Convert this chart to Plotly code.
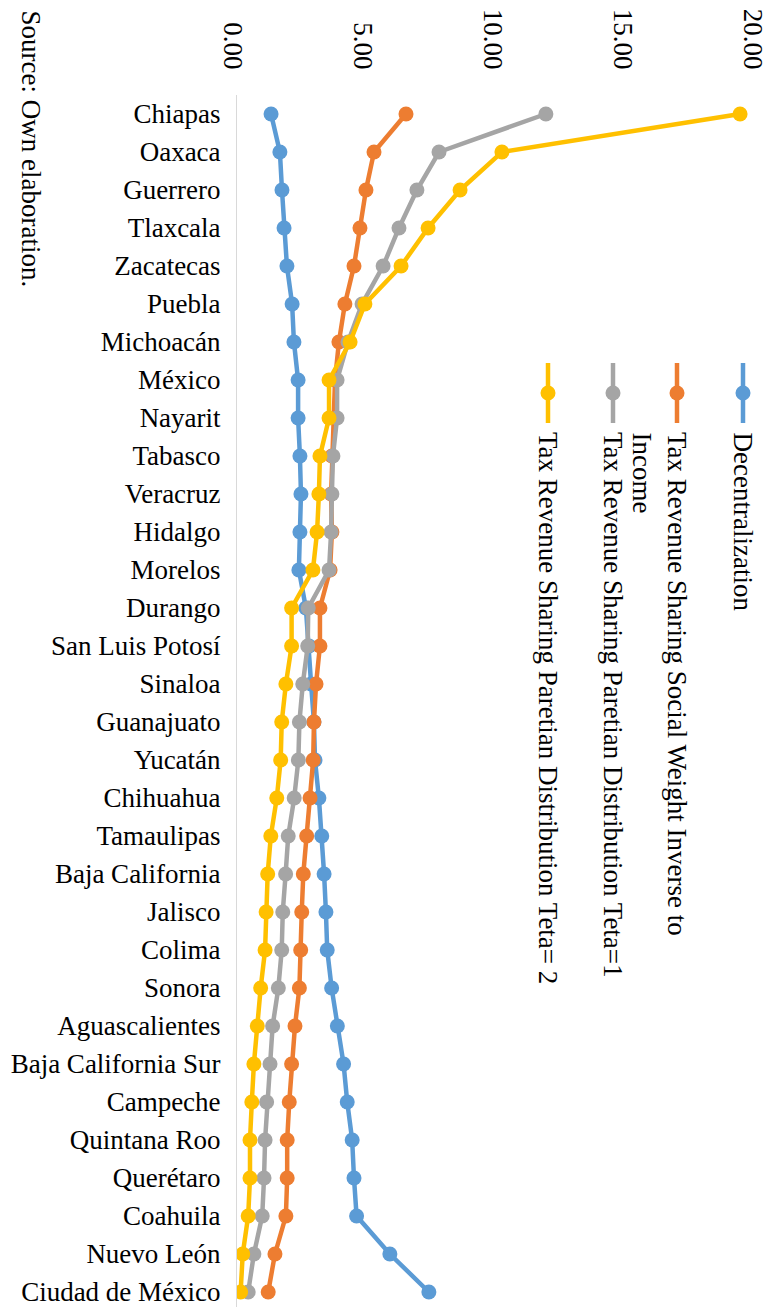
import plotly.graph_objects as go

# Mexican states, top to bottom
states = [
    "Chiapas", "Oaxaca", "Guerrero", "Tlaxcala", "Zacatecas", "Puebla",
    "Michoacán", "México", "Nayarit", "Tabasco", "Veracruz", "Hidalgo",
    "Morelos", "Durango", "San Luis Potosí", "Sinaloa", "Guanajuato",
    "Yucatán", "Chihuahua", "Tamaulipas", "Baja California", "Jalisco",
    "Colima", "Sonora", "Aguascalientes", "Baja California Sur", "Campeche",
    "Quintana Roo", "Querétaro", "Coahuila", "Nuevo León", "Ciudad de México",
]

decentralization = [
    1.31, 1.65, 1.73, 1.81, 1.92, 2.12, 2.19, 2.35, 2.35, 2.42, 2.46, 2.42,
    2.38, 2.65, 2.77, 2.85, 2.96, 3.00, 3.15, 3.26, 3.35, 3.42, 3.47, 3.64,
    3.86, 4.10, 4.24, 4.43, 4.50, 4.60, 5.88, 7.38,
]

social_weight = [
    6.50, 5.27, 4.96, 4.73, 4.50, 4.15, 3.92, 3.77, 3.73, 3.65, 3.62, 3.65,
    3.58, 3.19, 3.19, 3.04, 2.96, 2.93, 2.81, 2.68, 2.55, 2.49, 2.45, 2.40,
    2.23, 2.10, 2.01, 1.93, 1.93, 1.88, 1.46, 1.20,
]

paretian_teta1 = [
    11.88, 7.77, 6.92, 6.23, 5.62, 4.81, 4.27, 3.85, 3.85, 3.69, 3.65, 3.62,
    3.54, 2.74, 2.72, 2.53, 2.40, 2.36, 2.20, 1.97, 1.87, 1.76, 1.72, 1.59,
    1.37, 1.27, 1.14, 1.08, 1.04, 0.97, 0.65, 0.43,
]

paretian_teta2 = [
    19.35, 10.19, 8.58, 7.35, 6.31, 4.92, 4.35, 3.54, 3.54, 3.19, 3.15, 3.08,
    2.92, 2.10, 2.10, 1.88, 1.72, 1.68, 1.53, 1.30, 1.18, 1.12, 1.08, 0.91,
    0.78, 0.65, 0.57, 0.50, 0.50, 0.43, 0.22, 0.14,
]

series_names = [
    "Decentralization",
    "Tax Revenue Sharing Social Weight Inverse to Income",
    "Tax Revenue Sharing Paretian Distribution Teta=1",
    "Tax Revenue Sharing Paretian Distribution Teta= 2",
]
series_values = [decentralization, social_weight, paretian_teta1, paretian_teta2]
colors = ["#5B9BD5", "#ED7D31", "#A5A5A5", "#FFC000"]

value_ticks = [0, 5, 10, 15, 20]

FONT = "Times New Roman, Liberation Serif, DejaVu Serif, serif"
W, H = 769, 1307
ML, MR, MT, MB = 237, 12, 95, 0
PW, PH = W - ML - MR, H - MT - MB


def px_x(px):
    return (px - ML) / PW


def px_y(py):
    return (H - MB - py) / PH


fig = go.Figure()
for name, vals, col in zip(series_names, series_values, colors):
    fig.add_trace(go.Scatter(
        x=vals, y=states, name=name, mode="lines+markers",
        line=dict(color=col, width=4.5),
        marker=dict(color=col, size=15),
        showlegend=False,
    ))

# rotated legend drawn as shapes + annotations
legend_x = [743, 677, 613, 548]
shapes = []
annotations = []
for lx, col in zip(legend_x, colors):
    shapes.append(dict(type="line", xref="paper", yref="paper",
                       x0=px_x(lx), x1=px_x(lx), y0=px_y(363), y1=px_y(423),
                       line=dict(color=col, width=4.5)))
    shapes.append(dict(type="circle", xref="paper", yref="paper",
                       x0=px_x(lx - 7.5), x1=px_x(lx + 7.5),
                       y0=px_y(393 + 7.5), y1=px_y(393 - 7.5),
                       fillcolor=col, line=dict(color=col, width=0)))

legend_lines = [
    (743, "Decentralization"),
    (677, "Tax Revenue Sharing Social Weight Inverse to"),
    (642, "Income"),
    (613, "Tax Revenue Sharing Paretian Distribution Teta=1"),
    (548, "Tax Revenue Sharing Paretian Distribution Teta= 2"),
]
for lx, txt in legend_lines:
    annotations.append(dict(
        text=txt, xref="paper", yref="paper", x=px_x(lx), y=px_y(430),
        xanchor="center", yanchor="top", textangle=90, showarrow=False,
        font=dict(family=FONT, size=27, color="#000000"),
    ))

annotations.append(dict(
    text="Source: Own elaboration.", xref="paper", yref="paper",
    x=px_x(30), y=px_y(8), xanchor="center", yanchor="top",
    textangle=90, showarrow=False,
    font=dict(family=FONT, size=27, color="#000000"),
))

fig.update_layout(
    width=W, height=H,
    margin=dict(l=ML, r=MR, t=MT, b=MB, pad=0),
    paper_bgcolor="white", plot_bgcolor="white",
    font=dict(family=FONT, size=27, color="#000000"),
    shapes=shapes, annotations=annotations,
    xaxis=dict(
        side="top", range=[0, 20.001], tickvals=value_ticks, tickformat=".2f",
        tickangle=90, showgrid=False, zeroline=False, showline=False,
        ticks="outside", ticklen=15, tickcolor="rgba(0,0,0,0)",
        ticklabeloverflow="allow", ticklabelshift=-4,
        tickfont=dict(family=FONT, size=27, color="#000000"),
        automargin=False,
    ),
    yaxis=dict(
        type="category", categoryorder="array", categoryarray=states,
        range=[-0.5 + PH / 38.0, -0.5],
        showgrid=False, zeroline=False, showline=True,
        linecolor="#D9D9D9", linewidth=1,
        ticks="outside", ticklen=10, tickcolor="rgba(0,0,0,0)",
        tickfont=dict(family=FONT, size=27, color="#000000"),
        automargin=False,
    ),
)

fig.write_html("out.html")
